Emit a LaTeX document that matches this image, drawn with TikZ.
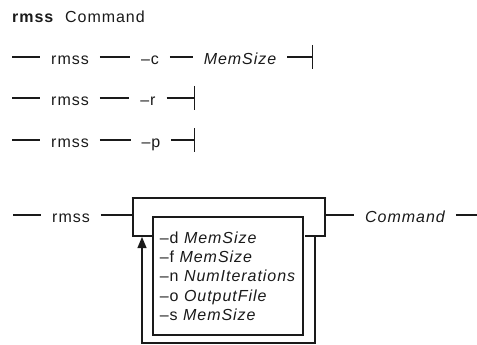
\documentclass[tikz,border=0pt]{standalone}
\usepackage{fontspec}
\setmainfont{Liberation Sans}
\newfontfamily\railfont[LetterSpace=6]{Liberation Sans}
\usetikzlibrary{arrows.meta}
\definecolor{RailInk}{HTML}{1A1A1A}

\tikzset{
  railtxt/.style={font=\railfont\fontsize{16}{19.3}\selectfont, text height=17pt, text depth=2pt,
                  inner sep=0pt, outer xsep=11pt, color=RailInk},
  railarg/.style={railtxt, font=\railfont\fontsize{16}{19.3}\selectfont\itshape},
  railtitle/.style={font=\railfont\fontsize{16}{19.3}\selectfont, inner sep=0pt, anchor=base west, color=RailInk},
  rail/.style={line width=1.2pt, color=RailInk},
  railstop/.style={rail, -{Bar[width=24pt]}},
  railloop/.style={rail, -{Triangle[width=9pt, length=11pt]}},
}

\begin{document}
\begin{tikzpicture}[x=1pt, y=-1pt]
    \useasboundingbox (0,0) rectangle (477,345);

    % Title
    \node[railtitle, font=\railfont\fontsize{16}{19.3}\selectfont\bfseries] (ttlcmd) at (12,23) {rmss};
    \node[railtitle] (ttlname) at (65,23) {Command};

    % Row 1: rmss -c MemSize
    \coordinate (r1s) at (12,57);
    \node[railtxt] (r1cmd) at (70,57) {rmss};
    \node[railtxt] (r1flag) at (150,57) {–c};
    \node[railarg] (r1arg) at (240,57) {MemSize};
    \coordinate (r1e) at (313,57);
    \draw[rail] (r1s) -- (r1cmd.west);
    \draw[rail] (r1cmd.east) -- (r1flag.west);
    \draw[rail] (r1flag.east) -- (r1arg.west);
    \draw[railstop] (r1arg.east) -- (r1e);

    % Row 2: rmss -r
    \coordinate (r2s) at (12,98);
    \node[railtxt] (r2cmd) at (70,98) {rmss};
    \node[railtxt] (r2flag) at (148,98) {–r};
    \coordinate (r2e) at (195,98);
    \draw[rail] (r2s) -- (r2cmd.west);
    \draw[rail] (r2cmd.east) -- (r2flag.west);
    \draw[railstop] (r2flag.east) -- (r2e);

    % Row 3: rmss -p
    \coordinate (r3s) at (12,140);
    \node[railtxt] (r3cmd) at (70,140) {rmss};
    \node[railtxt] (r3flag) at (151,140) {–p};
    \coordinate (r3e) at (195,140);
    \draw[rail] (r3s) -- (r3cmd.west);
    \draw[rail] (r3cmd.east) -- (r3flag.west);
    \draw[railstop] (r3flag.east) -- (r3e);

    % Row 4: rmss [options] Command
    \coordinate (r4s) at (13,215);
    \node[railtxt] (r4cmd) at (71,215) {rmss};
    \coordinate (bktL) at (133,215);
    \coordinate (bktR) at (325,215);
    \node[railarg] (r4arg) at (405,215) {Command};
    \coordinate (r4e) at (477,215);
    \draw[rail] (r4s) -- (r4cmd.west);
    \draw[rail] (r4cmd.east) -- (bktL);
    \draw[rail] (bktR) -- (r4arg.west);
    \draw[rail] (r4arg.east) -- (r4e);

    % Option bracket and list
    \draw[rail, line width=1.6pt] (153,236) -- (133,236) -- (133,198) -- (325,198) -- (325,236) -- (305,236);
    \draw[rail, line width=2.6pt, line cap=round] (133,198) -- (325,198);
    \node[draw, rail, minimum width=150pt, minimum height=118pt, align=left, inner sep=0pt,
          font=\railfont\fontsize{16}{19.3}\selectfont] (optbox) at (228,276)
        {–d \textit{MemSize}\\ –f \textit{MemSize}\\ –n \textit{NumIterations}\\ –o \textit{OutputFile}\\ –s \textit{MemSize}};

    % Repeat loop
    \coordinate (loopR) at (315,236);
    \coordinate (loopB) at (142,343);
    \coordinate (loopL) at (142,237);
    \draw[railloop] (loopR) |- (loopB) -- (loopL);
\end{tikzpicture}
\end{document}
